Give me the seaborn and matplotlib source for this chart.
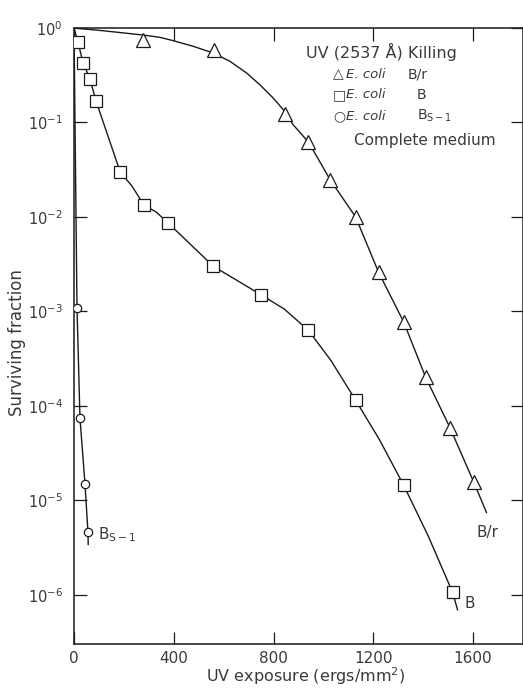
import matplotlib
matplotlib.use("Agg")
import matplotlib.pyplot as plt
import seaborn as sns

# --- measured survival points (UV dose in ergs/mm^2, surviving fraction) ---
br_dose = [277, 561, 847, 940, 1028, 1129, 1221, 1322, 1410, 1507, 1603]
br_surv = [0.75, 0.585, 0.123, 0.062, 0.0245, 0.010, 0.0026, 7.7e-4, 2.0e-4, 5.9e-5, 1.55e-5]

b_dose = [16, 36, 64, 88, 185, 281, 378, 559, 750, 940, 1129, 1322, 1518]
b_surv = [0.71, 0.43, 0.29, 0.17, 0.030, 0.0133, 0.0086, 0.0030, 0.0015,
          6.3e-4, 1.15e-4, 1.44e-5, 1.06e-6]

bs_dose = [12, 24, 44, 56]
bs_surv = [1.1e-3, 7.4e-5, 1.5e-5, 4.6e-6]

# --- hand-drawn survival curves ---
br_curve_dose = [0, 116, 276, 344, 398, 478, 558, 625, 692, 745, 798, 845, 878,
                 940, 1028, 1129, 1221, 1322, 1410, 1507, 1603, 1654]
br_curve_surv = [1.0, 0.936, 0.843, 0.797, 0.734, 0.640, 0.544, 0.444, 0.334, 0.251,
                 0.182, 0.131, 0.095, 0.062, 0.0245, 0.010, 0.0026, 7.7e-4, 2.0e-4,
                 5.9e-5, 1.55e-5, 7.4e-6]

b_curve_dose = [0, 16, 36, 64, 88, 185, 232, 281, 329, 378, 559, 750, 843, 940,
                1031, 1129, 1225, 1322, 1420, 1518, 1538]
b_curve_surv = [1.0, 0.71, 0.43, 0.29, 0.17, 0.030, 0.0213, 0.0133, 0.0113, 0.0086,
                0.0030, 0.0015, 1.06e-3, 6.3e-4, 3.0e-4, 1.15e-4, 4.37e-5, 1.44e-5,
                4.2e-6, 1.06e-6, 6.9e-7]

bs_curve_dose = [0, 12, 24, 44, 56, 57]
bs_curve_surv = [1.0, 1.1e-3, 7.4e-5, 1.5e-5, 4.6e-6, 3.4e-6]

x_ticks = [0, 400, 800, 1200, 1600]
y_ticks = [1e0, 1e-1, 1e-2, 1e-3, 1e-4, 1e-5, 1e-6]
y_tick_labels = [r"$10^{0}$", r"$10^{-1}$", r"$10^{-2}$", r"$10^{-3}$",
                 r"$10^{-4}$", r"$10^{-5}$", r"$10^{-6}$"]

sns.set_theme(style="ticks")
plt.rcParams["font.family"] = ["DejaVu Sans"]
plt.rcParams["mathtext.fontset"] = "dejavusans"

ink = "#1a1a1a"
text_col = "#3a3a3a"

fig = plt.figure(figsize=(5.23, 6.89), dpi=100)
ax = fig.add_axes([74 / 523, 1 - 644 / 689, 449 / 523, 616 / 689])

curves = [
    (br_curve_dose, br_curve_surv),
    (b_curve_dose, b_curve_surv),
    (bs_curve_dose, bs_curve_surv),
]
for d, s in curves:
    sns.lineplot(x=d, y=s, ax=ax, color=ink, lw=1.0, sort=False, estimator=None)

pts = [
    (br_dose, br_surv, "^", 9.5),
    (b_dose, b_surv, "s", 9.0),
    (bs_dose, bs_surv, "o", 6.0),
]
for d, s, m, ms in pts:
    ax.plot(d, s, linestyle="none", marker=m, markersize=ms, markerfacecolor="white",
            markeredgecolor=ink, markeredgewidth=0.9, zorder=3)

ax.set_yscale("log")
ax.set_xlim(0, 1800)
ax.set_ylim(10 ** -6.52, 1.0)
ax.set_xticks(x_ticks)
ax.set_xticklabels([str(t) for t in x_ticks], fontsize=11, color=text_col)
ax.set_yticks(y_ticks)
ax.set_yticklabels(y_tick_labels, fontsize=10.5, color=text_col)
ax.minorticks_off()
ax.tick_params(axis="both", which="major", direction="in", length=9, width=0.9,
               color=ink, top=True, right=True, labeltop=False, labelright=False)
ax.tick_params(axis="y", pad=8)
ax.tick_params(axis="x", pad=5)
for sp in ax.spines.values():
    sp.set_visible(True)
    sp.set_color(ink)
    sp.set_linewidth(1.1)

ax.set_xlabel("")
ax.set_ylabel("")
fig.text(306 / 523, 1 - 682 / 689, "UV exposure (ergs/mm$^2$)", ha="center",
         va="baseline", fontsize=11.5, color=text_col)
fig.text(17 / 523, 1 - 343 / 689, "Surviving fraction", ha="center", va="center",
         rotation=90, fontsize=12, color=text_col)


# key block in the upper right, placed in axes fractions
def fx(px):
    return (px - 74) / 449


def fy(py):
    return 1 - (py - 28) / 616


tr = ax.transAxes
ax.text(fx(381), fy(52), "UV (2537 Å) Killing", transform=tr, ha="center", va="center",
        fontsize=11.5, color=text_col)
rows = [
    (fy(74), "△", "B/r", 408),
    (fy(95), "□", "B", 417),
    (fy(116), "○", r"B$_{\mathregular{S-1}}$", 417),
]
for yy, sym, strain, sx in rows:
    ax.text(fx(333), yy, sym, transform=tr, ha="left", va="center", fontsize=10,
            color=text_col)
    ax.text(fx(346), yy, "E. coli", transform=tr, ha="left", va="center", fontsize=9.5,
            fontstyle="italic", color=text_col)
    ax.text(fx(sx), yy, strain, transform=tr, ha="left", va="center", fontsize=10,
            color=text_col)
ax.text(fx(425), fy(140), "Complete medium", transform=tr, ha="center", va="center",
        fontsize=11, color=text_col)

# curve end labels
ax.text(fx(477), fy(532), "B/r", transform=tr, ha="left", va="center", fontsize=11,
        color=text_col)
ax.text(fx(464), fy(603), "B", transform=tr, ha="left", va="center", fontsize=11,
        color=text_col)
ax.text(fx(98), fy(535), r"B$_{\mathregular{S-1}}$", transform=tr, ha="left",
        va="center", fontsize=11, color=text_col)

fig.savefig("out.png", dpi=100, facecolor="white")
